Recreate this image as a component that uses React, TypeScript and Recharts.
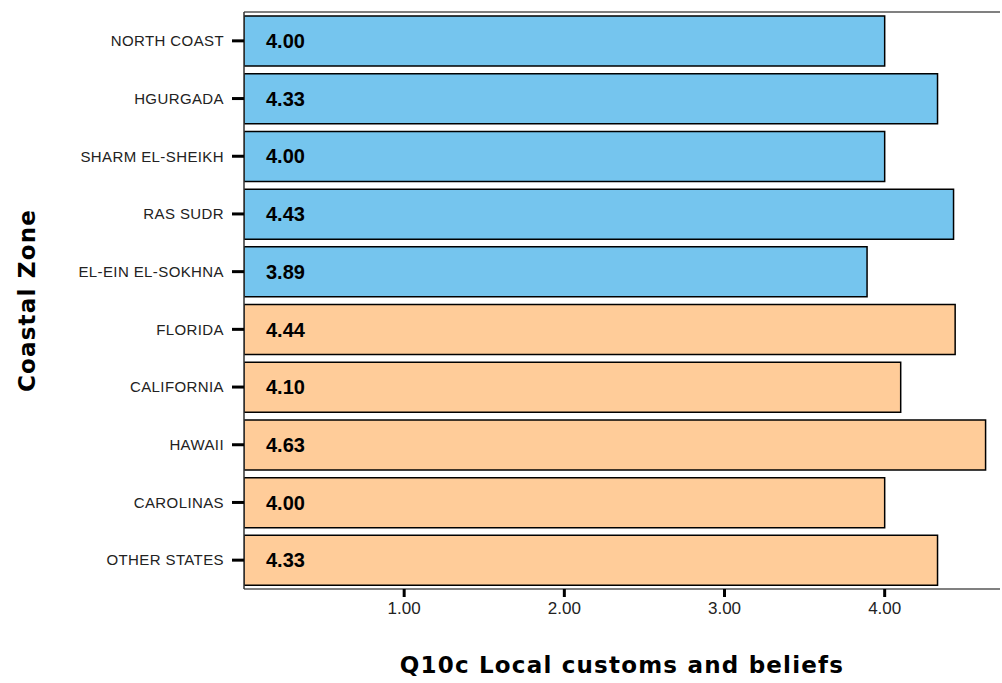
import React from "react";
import { BarChart, Bar, XAxis, YAxis, Cell, LabelList } from "recharts";

const categories = ["NORTH COAST", "HGURGADA", "SHARM EL-SHEIKH", "RAS SUDR", "EL-EIN EL-SOKHNA", "FLORIDA", "CALIFORNIA", "HAWAII", "CAROLINAS", "OTHER STATES"];
const values = [4.0, 4.33, 4.0, 4.43, 3.89, 4.44, 4.1, 4.63, 4.0, 4.33];
const groups = ["egypt", "egypt", "egypt", "egypt", "egypt", "us", "us", "us", "us", "us"];
const xTicks = [1, 2, 3, 4];

const colors: Record<string, string> = { egypt: "#75C5EE", us: "#FFCC99" };

const data = categories.map((c, i) => ({ zone: c, value: values[i], group: groups[i] }));

const ValueLabel = (props: any) => {
  const { x, y, height, value } = props;
  return (
    <text x={x + 22} y={y + height / 2} dy={7} fontFamily="'Liberation Sans', Arial, sans-serif" fontWeight="bold" fontSize={20} fill="#000">
      {Number(value).toFixed(2)}
    </text>
  );
};

const titleStyle = { fontFamily: "'DejaVu Sans', Verdana, sans-serif", fontWeight: "bold", fontSize: 23, letterSpacing: 1.2, fill: "#000" } as any;

export default function App() {
  return (
    <div style={{ position: "absolute", left: 0, top: 0, background: "#fff" }}>
      <BarChart
        width={1002}
        height={683}
        data={data}
        layout="vertical"
        margin={{ top: 11, right: 2, bottom: 0, left: 0 }}
        barCategoryGap="7%"
      >
        <XAxis
          type="number"
          dataKey="value"
          domain={[0, 4.72]}
          ticks={xTicks}
          tickFormatter={(v: number) => v.toFixed(2)}
          allowDataOverflow
          height={94}
          axisLine={{ stroke: "#808080", strokeWidth: 2 }}
          tickLine={{ stroke: "#000", strokeWidth: 3 }}
          tickSize={8}
          tickMargin={5}
          tick={{ fontFamily: "'Liberation Sans', Arial, sans-serif", fontSize: 17, fill: "#222" }}
          label={{ value: "Q10c Local customs and beliefs", position: "insideBottom", offset: 10, style: titleStyle }}
        />
        <XAxis
          xAxisId="top"
          orientation="top"
          type="number"
          domain={[0, 4.72]}
          height={1}
          tick={false}
          tickLine={false}
          axisLine={{ stroke: "#808080", strokeWidth: 2 }}
        />
        <YAxis
          type="category"
          dataKey="zone"
          width={244}
          axisLine={{ stroke: "#333", strokeWidth: 1.5 }}
          tickLine={{ stroke: "#000", strokeWidth: 3 }}
          tickSize={12}
          tickMargin={8}
          tick={{ fontFamily: "'Liberation Sans', Arial, sans-serif", fontSize: 15, letterSpacing: 0.4, fill: "#222" }}
          label={{ value: "Coastal Zone", angle: -90, position: "insideLeft", offset: 27, style: { ...titleStyle, textAnchor: "middle" } }}
        />
        <Bar dataKey="value" isAnimationActive={false} stroke="#000" strokeWidth={1.5}>
          {data.map((d, i) => (
            <Cell key={i} fill={colors[d.group]} />
          ))}
          <LabelList dataKey="value" content={<ValueLabel />} />
        </Bar>
      </BarChart>
    </div>
  );
}
